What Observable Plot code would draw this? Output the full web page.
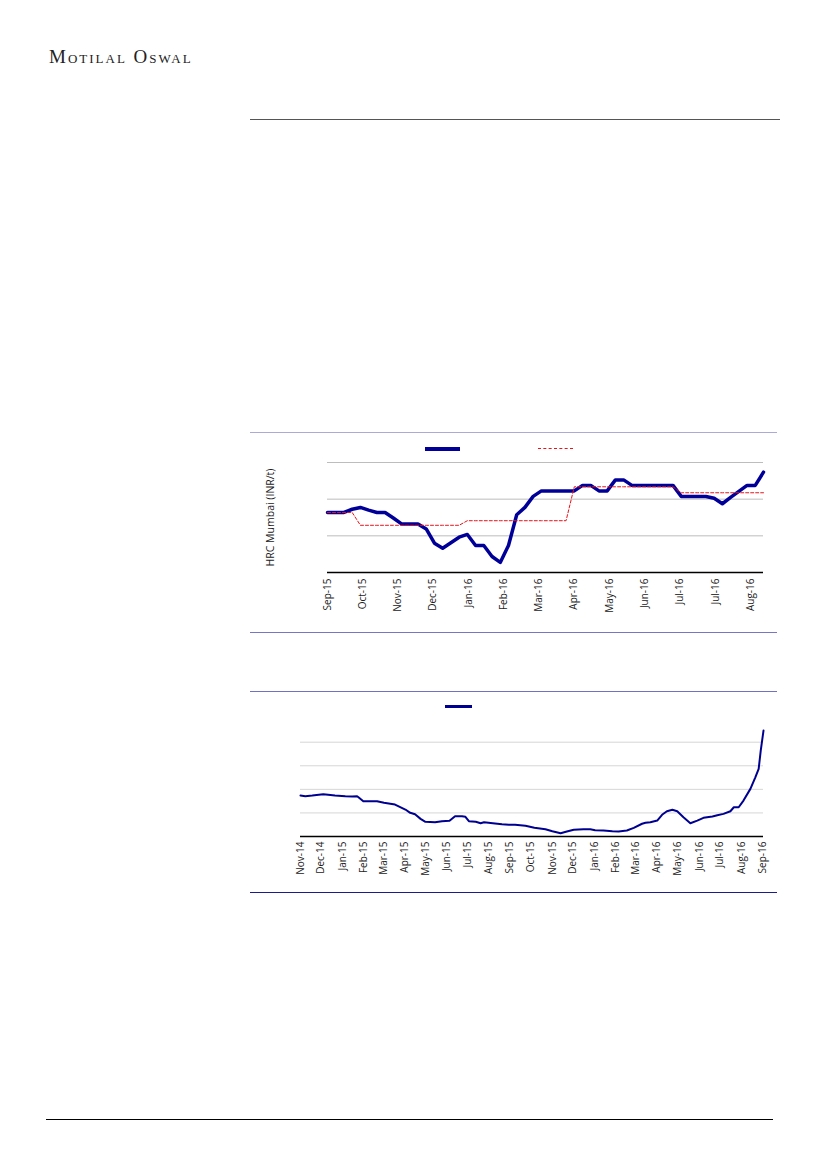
<!DOCTYPE html>
<html><head><meta charset="utf-8">
<script src="https://cdn.jsdelivr.net/npm/d3@7"></script>
<script src="https://cdn.jsdelivr.net/npm/@observablehq/plot@0.6"></script>
<style>
html,body{margin:0;padding:0;background:#fff;}
body{width:827px;height:1169px;position:relative;overflow:hidden;font-family:"Open Sans",sans-serif;}
.abs{position:absolute;}
#brand{left:49px;top:47px;font-family:"Liberation Serif",serif;font-variant:small-caps;font-size:19px;letter-spacing:2px;color:#222;line-height:19px;white-space:nowrap;}
</style></head><body>
<div class="abs" id="brand">Motilal Oswal</div>
<div class="abs" style="left:250px;top:119px;width:530px;border-top:1.5px solid #555"></div>

<div class="abs" style="left:250px;top:432px;width:527px;border-top:1.5px solid #aaaad8"></div>
<div class="abs" style="left:425px;top:447px;width:35px;height:3.5px;background:#000099"></div>
<div class="abs" style="left:538px;top:448px;width:35px;border-top:1px dashed #e8141b"></div>
<div class="abs" id="chart1" style="left:250px;top:455px;"></div>
<div class="abs" style="left:250px;top:632px;width:527px;border-top:1.5px solid #7676c4"></div>

<div class="abs" style="left:250px;top:691px;width:527px;border-top:1.5px solid #7070c4"></div>
<div class="abs" style="left:445px;top:705px;width:27px;height:2.5px;background:#000090"></div>
<div class="abs" id="chart2" style="left:250px;top:720px;"></div>
<div class="abs" style="left:250px;top:892px;width:527px;border-top:1.5px solid #1c1c8c"></div>

<div class="abs" style="left:46px;top:1119px;width:727px;border-top:1.3px solid #000"></div>

<script>
// ---- Chart 1: HRC Mumbai weekly prices (INR/t) ----
const hrcDates = [
 "2015-09-05","2015-09-12","2015-09-19","2015-09-26","2015-10-03","2015-10-10","2015-10-17","2015-10-24","2015-10-31",
 "2015-11-07","2015-11-14","2015-11-21","2015-11-28","2015-12-05","2015-12-12","2015-12-19","2015-12-26",
 "2016-01-02","2016-01-09","2016-01-16","2016-01-23","2016-01-30","2016-02-06","2016-02-13","2016-02-20","2016-02-27",
 "2016-03-05","2016-03-12","2016-03-19","2016-03-26","2016-04-02","2016-04-09","2016-04-16","2016-04-23","2016-04-30",
 "2016-05-07","2016-05-14","2016-05-21","2016-05-28","2016-06-04","2016-06-11","2016-06-18","2016-06-25",
 "2016-07-02","2016-07-09","2016-07-16","2016-07-23","2016-07-30","2016-08-06","2016-08-13","2016-08-20","2016-08-27",
 "2016-09-03","2016-09-10"];
const hrcMumbai = [
 32550,32550,32550,32900,33100,32800,32550,32550,31950,31300,
 31300,31300,30750,29200,28650,29250,29850,30150,28950,28950,
 27750,27100,28950,32300,33100,34300,34900,34900,34900,34900,
 34900,35500,35500,34900,34900,36100,36100,35500,35500,35500,
 35500,35500,35500,34300,34300,34300,34300,34100,33500,34200,
 34850,35500,35500,36950];
const hrcList = [
 32550,32550,32550,32550,
 31150,31150,31150,31150,31150,31150,31150,31150,31150,31150,31150,31150,31150,
 31650,31650,31650,31650,31650,31650,31650,31650,31650,31650,31650,31650,31650,
 35350,35350,35350,35350,35350,35350,35350,35350,35350,35350,35350,35350,35350,
 34700,34700,34700,34700,34700,34700,34700,34700,34700,34700,34700];
const hrcTicks = ["2015-09-05","2015-10-05","2015-11-04","2015-12-04","2016-01-03","2016-02-02","2016-03-03",
 "2016-04-02","2016-05-02","2016-06-01","2016-07-01","2016-07-31","2016-08-30"];
const hrcGrid = [30000,34000,38000];
const hrcBase = 26000;
const hrcYLabel = "HRC Mumbai (INR/t)";

// ---- Chart 2: price series (monthly axis) ----
const coalDates = [
 "2014-11-01","2014-11-08","2014-11-18","2014-12-04","2014-12-11","2014-12-21","2015-01-05","2015-01-15","2015-01-22",
 "2015-01-24","2015-01-31","2015-02-20","2015-03-02","2015-03-18","2015-04-02","2015-04-09","2015-04-16","2015-04-24",
 "2015-05-01","2015-05-15","2015-05-25","2015-06-05","2015-06-13","2015-06-23","2015-06-28","2015-07-03","2015-07-13",
 "2015-07-20","2015-07-25","2015-08-10","2015-08-20","2015-08-30","2015-09-08","2015-09-23","2015-10-06","2015-10-22",
 "2015-11-01","2015-11-13","2015-11-22","2015-12-02","2015-12-16","2015-12-26","2016-01-02","2016-01-14","2016-01-27",
 "2016-02-05","2016-02-17","2016-02-27","2016-03-10","2016-03-15","2016-03-22","2016-04-01","2016-04-08","2016-04-15",
 "2016-04-23","2016-04-30","2016-05-09","2016-05-19","2016-05-29","2016-06-07","2016-06-20","2016-06-27","2016-07-06",
 "2016-07-16","2016-07-21","2016-07-28","2016-08-04","2016-08-14","2016-08-21","2016-08-26","2016-08-29","2016-09-02"];
const coalPrice = [
 113.4,112.7,113.4,114.8,114.2,113.4,112.7,112.4,112.7,
 111.6,107.4,107.4,105.7,103.9,98.6,95.1,93.6,88.7,
 85.6,85.1,86.2,86.6,91.5,91.5,90.9,86.2,85.6,
 84.1,85.1,83.8,83.0,82.4,82.4,81.3,79.2,77.7,
 75.6,73.5,75.3,77.1,77.7,77.7,76.7,76.4,75.6,
 75.3,76.4,79.2,83.5,84.5,85.1,86.9,93.0,96.8,
 98.3,96.8,90.4,84.1,86.9,89.8,91.2,92.6,94.0,
 96.8,101.0,101.0,108.1,120.5,132.5,141.7,161.1,182.3];
const coalTicks = ["2014-11-01","2014-12-01","2015-01-01","2015-02-01","2015-03-01","2015-04-01","2015-05-01","2015-06-01",
 "2015-07-01","2015-08-01","2015-09-01","2015-10-01","2015-11-01","2015-12-01","2016-01-01","2016-02-01","2016-03-01",
 "2016-04-01","2016-05-01","2016-06-01","2016-07-01","2016-08-01","2016-09-01"];
const coalGrid = [95,120,145,170];
const coalBase = 70;

const fmt = d3.utcFormat("%b-%y");
const axisStyle = {fontFamily:"Open Sans", fontSize:"10px", color:"#222", background:"transparent", overflow:"visible"};

const data1 = hrcDates.map((d,i)=>({date:new Date(d), price:hrcMumbai[i], list:hrcList[i]}));
const chart1 = Plot.plot({
  width:530, height:175, marginLeft:77, marginRight:17, marginTop:7, marginBottom:58,
  style:axisStyle,
  x:{type:"utc", domain:[new Date(hrcDates[0]), new Date(hrcDates[hrcDates.length-1])],
     ticks:hrcTicks.map(d=>new Date(d)), tickFormat:fmt, tickRotate:-90, tickSize:0, tickPadding:6, label:null},
  y:{domain:[hrcBase, 38000], axis:null},
  marks:[
    Plot.ruleY(hrcGrid, {stroke:"#bdbdbd", strokeWidth:1}),
    Plot.ruleY([hrcBase], {stroke:"#000", strokeWidth:1.5}),
    Plot.line(data1, {x:"date", y:"price", stroke:"#000099", strokeWidth:3.5, strokeLinejoin:"round"}),
    Plot.line(data1, {x:"date", y:"list", stroke:"#e8141b", strokeWidth:1, strokeDasharray:"3,2"}),
    Plot.text([hrcYLabel], {text:d=>d, frameAnchor:"left", textAnchor:"middle", rotate:-90, dx:-57, fontSize:10.5, fill:"#222"})
  ]
});
document.getElementById("chart1").appendChild(chart1);

const data2 = coalDates.map((d,i)=>({date:new Date(d), price:coalPrice[i]}));
const chart2 = Plot.plot({
  width:530, height:170, marginLeft:50, marginRight:17, marginTop:21.7, marginBottom:54,
  style:axisStyle,
  x:{type:"utc", domain:[new Date(coalTicks[0]), new Date(coalDates[coalDates.length-1])],
     ticks:coalTicks.map(d=>new Date(d)), tickFormat:fmt, tickRotate:-90, tickSize:0, tickPadding:5, label:null},
  y:{domain:[coalBase, 170], axis:null},
  marks:[
    Plot.ruleY(coalGrid, {stroke:"#d6d6d6", strokeWidth:1}),
    Plot.ruleY([coalBase], {stroke:"#000", strokeWidth:1.5}),
    Plot.line(data2, {x:"date", y:"price", stroke:"#000090", strokeWidth:2, strokeLinejoin:"round"})
  ]
});
document.getElementById("chart2").appendChild(chart2);
</script>
</body></html>
